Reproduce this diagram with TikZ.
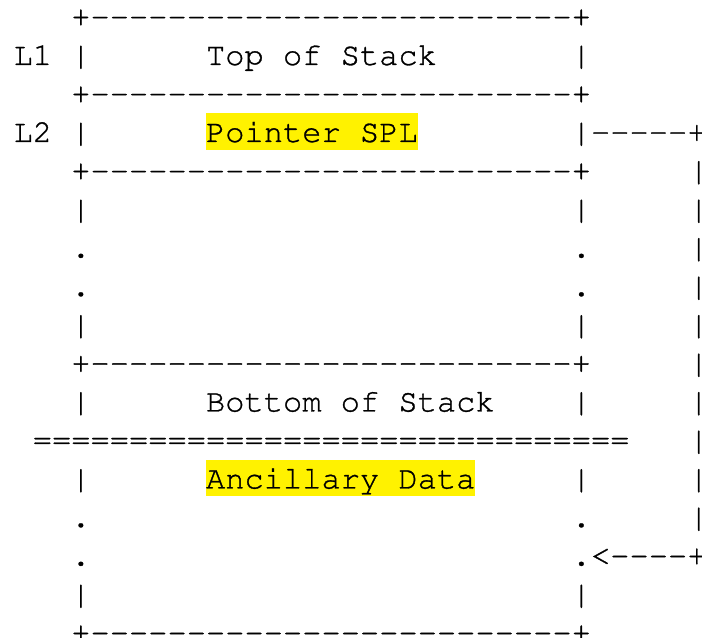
\documentclass[tikz,border=0pt]{standalone}
\usepackage[T1,TU]{fontenc}

% Schreibmaschinenschrift im Raster 19.25pt x 38.5pt, etwas kraeftiger
\newcommand\asciifont{\fontencoding{T1}\fontfamily{pcr}\fontsize{32.08}{38.5}\selectfont
  \special{pdf:code 2 Tr 0.3 w}}
\newcommand\charrun[2]{\foreach\k in {1,...,#2}{#1}}

\tikzset{
  ascii/.style={anchor=base west, inner sep=0pt, font=\asciifont},
  gelb/.style={ascii, fill=yellow, text height=28.5pt, text depth=8pt}
}

\begin{document}
\begin{tikzpicture}[x=19.25pt, y=-38.5pt]
  \useasboundingbox (-0.691,0.312) rectangle (35.777,16.883);

  % Trennlinien des Stapels
  \foreach \r in {1,3,5,10,17}
    \node[ascii] (kante\r) at (3,\r) {+\charrun{-}{25}+};

  % Seitenwaende
  \foreach \r in {2,4,6,9,11,13,16} {
    \node[ascii] (links\r) at (3,\r) {|};
    \node[ascii] (rechts\r) at (29,\r) {|};
  }
  \foreach \r in {7,8,14,15} {
    \node[ascii] (links\r) at (3,\r) {.};
    \node[ascii] (rechts\r) at (29,\r) {.};
  }

  % Beschriftung
  \node[ascii] (l1) at (0,2) {L1};
  \node[ascii] (l2) at (0,4) {L2};
  \node[ascii] (tos) at (10,2) {Top of Stack};
  \node[gelb] (spl) at (10,4) {Pointer SPL};
  \node[ascii] (bos) at (10,11) {Bottom of Stack};
  \node[gelb] (anc) at (10,13) {Ancillary Data};

  % Grenze zwischen Stack und Zusatzdaten
  \node[ascii] (grenze) at (1,12) {\charrun{=}{31}};

  % Verweis von SPL auf die Zusatzdaten
  \node[ascii] (aus) at (30,4) {\charrun{-}{5}+};
  \foreach \r in {5,...,14}
    \node[ascii] (weg\r) at (35.1,\r) {|};
  \node[ascii] (ein) at (30,15) {<\charrun{-}{4}+};
\end{tikzpicture}
\end{document}
